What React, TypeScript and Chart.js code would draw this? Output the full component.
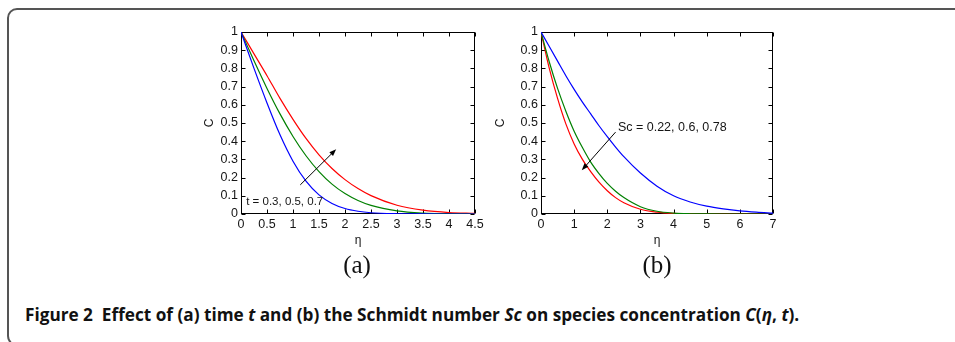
import React, { useEffect, useRef } from "react";
import { Chart, registerables } from "chart.js";
Chart.register(...registerables);

// ---------- Panel (a): effect of time t ----------
const etaA = [0, 0.25, 0.5, 0.75, 1, 1.25, 1.5, 1.75, 2, 2.25, 2.5, 3, 3.5, 4, 4.5];
const cA_t03 = [1, 0.80, 0.61, 0.435, 0.29, 0.18, 0.105, 0.058, 0.03, 0.015, 0.007, 0.0015, 0.0003, 0, 0];
const cA_t05 = [1, 0.842, 0.69, 0.55, 0.426, 0.32, 0.233, 0.164, 0.112, 0.074, 0.047, 0.017, 0.005, 0.0015, 0];
const cA_t07 = [1, 0.88, 0.76, 0.635, 0.52, 0.415, 0.325, 0.25, 0.189, 0.14, 0.101, 0.048, 0.021, 0.008, 0.003];
const arrowAFrom = [1.14, 0.16];
const arrowATo = [1.83, 0.356];
const labelA = "t = 0.3, 0.5, 0.7";
const labelAPos = [0.1, 0.066];

// ---------- Panel (b): effect of Schmidt number Sc ----------
const etaB = [0, 0.25, 0.5, 0.75, 1, 1.25, 1.5, 1.75, 2, 2.25, 2.5, 3, 3.5, 4, 4.5, 5, 5.5, 6, 6.5, 7];
const cB_sc022 = [1, 0.92, 0.84, 0.76, 0.685, 0.615, 0.55, 0.485, 0.425, 0.368, 0.315, 0.225, 0.153, 0.1, 0.066, 0.043, 0.028, 0.017, 0.01, 0.005];
const cB_sc06 = [1, 0.835, 0.69, 0.565, 0.455, 0.365, 0.285, 0.222, 0.168, 0.125, 0.09, 0.04, 0.015, 0.005, 0.0015, 0.0005, 0, 0, 0, 0];
const cB_sc078 = [1, 0.8, 0.635, 0.495, 0.385, 0.3, 0.233, 0.175, 0.128, 0.09, 0.062, 0.026, 0.01, 0.003, 0.001, 0, 0, 0, 0, 0];
const arrowBFrom = [2.25, 0.45];
const arrowBTo = [1.23, 0.24];
const labelB = "Sc = 0.22, 0.6, 0.78";
const labelBPos = [2.32, 0.474];

const SANS = '"Liberation Sans", Arial, Helvetica, sans-serif';
const TXT = "#151515";

const fmt = (v: any) => String(Number(Number(v).toFixed(2)));

const framePlugin = {
  id: "frameTicks",
  beforeDatasetsDraw(chart: any) {
    const { ctx, chartArea, scales } = chart;
    const { left, right, top, bottom } = chartArea;
    const L = Math.round(left) + 0.5;
    const R = Math.round(right) - 0.5;
    const T = Math.round(top) + 0.5;
    const B = Math.round(bottom) - 0.5;
    ctx.save();
    ctx.strokeStyle = "#000";
    ctx.lineWidth = 1;
    ctx.strokeRect(L, T, R - L, B - T);
    const tl = 4;
    ctx.beginPath();
    scales.x.ticks.forEach((t: any) => {
      const px = Math.round(scales.x.getPixelForValue(t.value)) + 0.5;
      ctx.moveTo(px, B);
      ctx.lineTo(px, B - tl);
      ctx.moveTo(px, T);
      ctx.lineTo(px, T + tl);
    });
    scales.y.ticks.forEach((t: any) => {
      const py = Math.round(scales.y.getPixelForValue(t.value)) + 0.5;
      ctx.moveTo(L, py);
      ctx.lineTo(L + tl, py);
      ctx.moveTo(R, py);
      ctx.lineTo(R - tl, py);
    });
    ctx.stroke();
    ctx.restore();
  },
  afterDatasetsDraw(chart: any, _args: any, opts: any) {
    const { ctx, scales } = chart;
    const x = scales.x, y = scales.y;
    const x1 = x.getPixelForValue(opts.from[0]);
    const y1 = y.getPixelForValue(opts.from[1]);
    const x2 = x.getPixelForValue(opts.to[0]);
    const y2 = y.getPixelForValue(opts.to[1]);
    const ang = Math.atan2(y2 - y1, x2 - x1);
    const hl = 7, hw = 2.6;
    ctx.save();
    ctx.strokeStyle = "#000";
    ctx.fillStyle = "#000";
    ctx.lineWidth = 1;
    ctx.beginPath();
    ctx.moveTo(x1, y1);
    ctx.lineTo(x2 - Math.cos(ang) * hl * 0.8, y2 - Math.sin(ang) * hl * 0.8);
    ctx.stroke();
    ctx.beginPath();
    ctx.moveTo(x2, y2);
    ctx.lineTo(x2 - Math.cos(ang) * hl - Math.sin(ang) * hw, y2 - Math.sin(ang) * hl + Math.cos(ang) * hw);
    ctx.lineTo(x2 - Math.cos(ang) * hl + Math.sin(ang) * hw, y2 - Math.sin(ang) * hl - Math.cos(ang) * hw);
    ctx.closePath();
    ctx.fill();
    ctx.font = `${opts.fontSize}px ${SANS}`;
    ctx.fillStyle = TXT;
    ctx.textAlign = "left";
    ctx.textBaseline = "middle";
    ctx.fillText(opts.label, x.getPixelForValue(opts.labelPos[0]), y.getPixelForValue(opts.labelPos[1]));
    ctx.restore();
  },
};

type PanelProps = {
  left: number; top: number; width: number; height: number;
  yAxisWidth: number; xAxisHeight: number; padTop: number; padRight: number;
  xMax: number; xStep: number;
  eta: number[]; series: number[][]; colors: string[];
  arrowFrom: number[]; arrowTo: number[]; label: string; labelPos: number[]; labelSize: number;
  yTitlePad: number; xTitlePad: number;
};

function Panel(p: PanelProps) {
  const ref = useRef<HTMLCanvasElement | null>(null);
  useEffect(() => {
    if (!ref.current) return;
    const tickFont = { family: SANS, size: 12.5 };
    const titleFont = { family: SANS, size: 12 };
    const chart = new Chart(ref.current, {
      type: "line",
      data: {
        datasets: p.series.map((s, i) => ({
          data: p.eta.map((e, j) => ({ x: e, y: s[j] })),
          borderColor: p.colors[i],
          backgroundColor: p.colors[i],
          borderWidth: 1.2,
          pointRadius: 0,
          fill: false,
          cubicInterpolationMode: "monotone" as const,
        })),
      },
      options: {
        responsive: false,
        animation: false,
        devicePixelRatio: 1,
        layout: { padding: { top: p.padTop, right: p.padRight, left: 0, bottom: 0 } },
        plugins: {
          legend: { display: false },
          tooltip: { enabled: false },
          frameTicks: {
            from: p.arrowFrom, to: p.arrowTo, label: p.label, labelPos: p.labelPos, fontSize: p.labelSize,
          },
        } as any,
        scales: {
          x: {
            type: "linear",
            min: 0,
            max: p.xMax,
            grid: { display: false, drawTicks: false },
            border: { display: false },
            ticks: { stepSize: p.xStep, autoSkip: false, maxRotation: 0, padding: 3, color: TXT, font: tickFont, callback: fmt },
            title: { display: true, text: "η", color: TXT, font: titleFont, padding: { top: 0, bottom: p.xTitlePad } },
            afterFit: (s: any) => { s.height = p.xAxisHeight; },
          },
          y: {
            type: "linear",
            min: 0,
            max: 1,
            grid: { display: false, drawTicks: false },
            border: { display: false },
            ticks: { stepSize: 0.1, autoSkip: false, padding: 3, color: TXT, font: tickFont, callback: fmt },
            title: { display: true, text: "C", color: TXT, font: titleFont, padding: { top: p.yTitlePad, bottom: 0 } },
            afterFit: (s: any) => { s.width = p.yAxisWidth; },
          },
        },
      } as any,
      plugins: [framePlugin],
    });
    return () => chart.destroy();
  }, []);
  return (
    <canvas
      ref={ref}
      width={p.width}
      height={p.height}
      style={{ position: "absolute", left: p.left, top: p.top, width: p.width, height: p.height }}
    />
  );
}

const COLORS = ["#0000ff", "#008000", "#ff0000"];

export default function App() {
  return (
    <div style={{ position: "fixed", left: 0, top: 0, width: 955, height: 342, background: "#fff", overflow: "hidden" }}>
      <div
        style={{
          position: "absolute", left: 7, top: 8, width: 1000, height: 338, boxSizing: "border-box",
          border: "2px solid #555", borderRadius: 10,
        }}
      />
      <Panel
        left={195} top={20} width={295} height={235}
        yAxisWidth={46} xAxisHeight={41} padTop={12} padRight={15}
        xMax={4.5} xStep={0.5}
        eta={etaA} series={[cA_t03, cA_t05, cA_t07]} colors={COLORS}
        arrowFrom={arrowAFrom} arrowTo={arrowATo} label={labelA} labelPos={labelAPos} labelSize={11.5}
        yTitlePad={7.8} xTitlePad={6.8}
      />
      <Panel
        left={485} top={20} width={305} height={235}
        yAxisWidth={56} xAxisHeight={41} padTop={12} padRight={17}
        xMax={7} xStep={1}
        eta={etaB} series={[cB_sc022, cB_sc06, cB_sc078]} colors={COLORS}
        arrowFrom={arrowBFrom} arrowTo={arrowBTo} label={labelB} labelPos={labelBPos} labelSize={12.5}
        yTitlePad={8.5} xTitlePad={6.8}
      />
      <div style={{ position: "absolute", left: 357 - 30, width: 60, top: 252, textAlign: "center", font: '25px/25px "Liberation Serif", "Times New Roman", serif', color: "#111" }}>(a)</div>
      <div style={{ position: "absolute", left: 657 - 30, width: 60, top: 252, textAlign: "center", font: '25px/25px "Liberation Serif", "Times New Roman", serif', color: "#111" }}>(b)</div>
      <div
        style={{
          position: "absolute", left: 25, top: 306, whiteSpace: "pre", color: "#111",
          font: '700 17.2px/17px "Open Sans", "Noto Sans", sans-serif',
        }}
      >
        {"Figure 2  Effect of (a) time "}<i>t</i>{" and (b) the Schmidt number "}<i>Sc</i>{" on species concentration "}<i>C</i>{"("}<i>η</i>{", "}<i>t</i>{")."}
      </div>
    </div>
  );
}
